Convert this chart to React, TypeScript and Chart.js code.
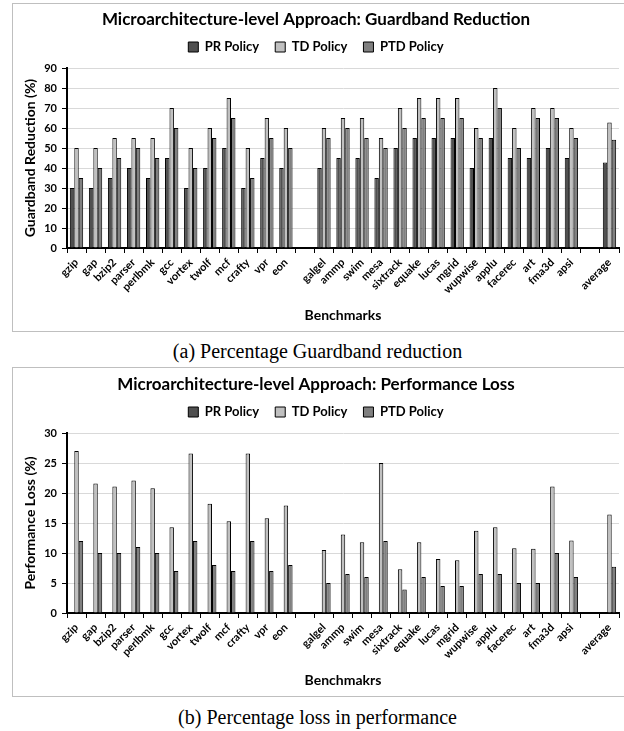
import React, { useEffect, useRef } from 'react';
import { Chart, registerables } from 'chart.js';
Chart.register(...registerables);

const categories = ['gzip', 'gap', 'bzip2', 'parser', 'perlbmk', 'gcc', 'vortex', 'twolf', 'mcf', 'crafty', 'vpr', 'eon', '', 'galgel', 'ammp', 'swim', 'mesa', 'sixtrack', 'equake', 'lucas', 'mgrid', 'wupwise', 'applu', 'facerec', 'art', 'fma3d', 'apsi', '', 'average'];

const seriesNames = ['PR Policy', 'TD Policy', 'PTD Policy'];

const gbPR = [30, 30, 35, 40, 35, 45, 30, 40, 50, 30, 45, 40, null, 40, 45, 45, 35, 50, 55, 55, 55, 40, 55, 45, 45, 50, 45, null, 42.7];
const gbTD = [50, 50, 55, 55, 55, 70, 50, 60, 75, 50, 65, 60, null, 60, 65, 65, 55, 70, 75, 75, 75, 60, 80, 60, 70, 70, 60, null, 62.8];
const gbPTD = [35, 40, 45, 50, 45, 60, 40, 55, 65, 35, 55, 50, null, 55, 60, 55, 50, 60, 65, 65, 65, 55, 70, 50, 65, 65, 55, null, 54.1];

const plPR = [0, 0, 0, 0, 0, 0, 0, 0, 0, 0, 0, 0, null, 0, 0, 0, 0, 0, 0, 0, 0, 0, 0, 0, 0, 0, 0, null, 0];
const plTD = [27, 21.6, 21.1, 22.1, 20.8, 14.3, 26.6, 18.2, 15.3, 26.6, 15.8, 17.9, null, 10.5, 13.1, 11.8, 25, 7.3, 11.8, 9, 8.8, 13.7, 14.3, 10.8, 10.7, 21.1, 12.1, null, 16.4];
const plPTD = [12, 10, 10, 11, 10, 7, 12, 8, 7, 12, 7, 8, null, 5, 6.5, 6, 12, 3.9, 6, 4.5, 4.5, 6.5, 6.5, 5, 5, 10, 6, null, 7.7];

const gbTicks = { min: 0, max: 90, step: 10 };
const plTicks = { min: 0, max: 30, step: 5 };

const colors = ['#505050', '#c0c0c0', '#808080'];
const FONT = 'Lato, "Open Sans", sans-serif';

function BarChart(props: any) {
  const ref = useRef<HTMLCanvasElement | null>(null);
  useEffect(() => {
    if (!ref.current) return;
    const data = [props.pr, props.td, props.ptd];
    const chart = new Chart(ref.current, {
      type: 'bar',
      data: {
        labels: categories,
        datasets: data.map((d: any, i: number) => ({
          label: seriesNames[i],
          data: d,
          backgroundColor: colors[i],
          borderColor: '#000',
          borderWidth: 1,
          barPercentage: 1.0,
          categoryPercentage: 0.7,
        })),
      },
      options: {
        animation: false,
        responsive: false,
        maintainAspectRatio: false,
        layout: { padding: { top: 0, left: 0, right: 6, bottom: 0 } },
        plugins: {
          tooltip: { enabled: false },
          title: {
            display: true,
            text: props.title,
            color: '#000',
            font: { family: FONT, size: 17, weight: 'bold' },
            padding: { top: props.titleTop, bottom: -5.7 },
          },
          subtitle: {
            display: true,
            text: ' ',
            weight: 500,
            font: { size: 1 },
            padding: { top: 3.3, bottom: 0 },
          },
          legend: {
            display: true,
            position: 'top',
            labels: {
              color: '#000',
              font: { family: FONT, size: 13, weight: 'bold' },
              boxWidth: 10,
              boxHeight: 10,
              padding: 16,
            },
          },
        },
        scales: {
          x: {
            grid: { drawOnChartArea: false, drawTicks: true, tickLength: 5, tickColor: '#000', tickWidth: 1 },
            border: { color: '#000', width: 2 },
            ticks: {
              autoSkip: false,
              maxRotation: 45,
              minRotation: 45,
              color: '#000',
              padding: 3,
              font: { family: FONT, size: 11, weight: 'bold' },
            },
            title: {
              display: true,
              text: props.xTitle,
              color: '#000',
              font: { family: FONT, size: 14, weight: 'bold' },
              padding: { top: 2, bottom: 7 },
            },
            afterFit: (s: any) => { s.height = props.xHeight; },
          },
          y: {
            min: props.ticks.min,
            max: props.ticks.max,
            ticks: {
              stepSize: props.ticks.step,
              color: '#000',
              padding: 5,
              font: { family: FONT, size: 11, weight: 'bold' },
            },
            grid: { color: '#d9d9d9', tickColor: '#000', tickLength: 5, lineWidth: 1 },
            border: { color: '#000', width: 2 },
            title: {
              display: true,
              text: props.yTitle,
              color: '#000',
              font: { family: FONT, size: 14, weight: 'bold' },
              padding: { top: 8.6, bottom: 0 },
            },
            afterFit: (s: any) => { s.width = 54; },
          },
        },
      },
    } as any);
    return () => chart.destroy();
  }, []);
  return <canvas ref={ref} width={props.w} height={props.h} style={{ display: 'block', width: props.w, height: props.h }} />;
}

export default function App() {
  const caption: any = {
    position: 'absolute',
    left: 0,
    width: 635,
    textAlign: 'center',
    fontFamily: '"Liberation Serif", "Times New Roman", serif',
    fontSize: 20,
    lineHeight: '23px',
    color: '#000',
  };
  const box: any = {
    position: 'absolute',
    left: 12,
    width: 614,
    border: '1px solid #bfbfbf',
    boxSizing: 'border-box',
    background: '#fff',
  };
  return (
    <div style={{ position: 'absolute', left: 0, top: 0, width: 624, height: 731, background: '#fff', overflow: 'hidden' }}>
      <div style={{ ...box, top: 3, height: 329 }}>
        <BarChart w={612} h={327} pr={gbPR} td={gbTD} ptd={gbPTD} ticks={gbTicks} xHeight={83} titleTop={5.8}
          title="Microarchitecture-level Approach: Guardband Reduction" yTitle="Guardband Reduction (%)" xTitle="Benchmarks" />
      </div>
      <div style={{ ...caption, top: 340 }}>(a) Percentage Guardband reduction</div>
      <div style={{ ...box, top: 367, height: 330 }}>
        <BarChart w={612} h={328} pr={plPR} td={plTD} ptd={plPTD} ticks={plTicks} xHeight={83} titleTop={6.8}
          title="Microarchitecture-level Approach: Performance Loss" yTitle="Performance Loss (%)" xTitle="Benchmakrs" />
      </div>
      <div style={{ ...caption, top: 706 }}>(b) Percentage loss in performance</div>
    </div>
  );
}
